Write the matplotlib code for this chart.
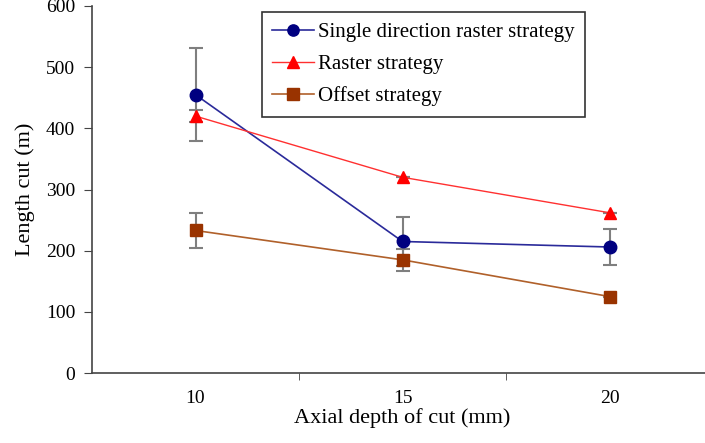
import matplotlib
matplotlib.use("Agg")
import matplotlib.pyplot as plt
import numpy as np

categories = ["10", "15", "20"]
single_vals = [455, 215, 206]
single_err = [76, 40, 30]
raster_vals = [420, 320, 262]
raster_err = [10, 0, 0]
offset_vals = [233, 185, 125]
offset_err = [29, 18, 0]

plt.rcParams['font.family'] = ['Liberation Serif', 'DejaVu Serif']

fig = plt.figure(figsize=(7.05, 4.43), dpi=100)
ax = fig.add_axes([92/705, 70/443, 621/705, 367/443])

x = np.arange(len(categories))

err_kw = dict(ecolor='#7f7f7f', elinewidth=1.5, capsize=5, capthick=1.5)

ax.errorbar(x, single_vals, yerr=single_err, fmt='none', zorder=2, **err_kw)
ax.errorbar(x, raster_vals, yerr=raster_err, fmt='none', zorder=2, **err_kw)
ax.errorbar(x, offset_vals, yerr=offset_err, fmt='none', zorder=2, **err_kw)

ax.plot(x, single_vals, color='#2a2a9a', lw=1.2, marker='o', ms=9,
        mfc='#000080', mec='#000080', label='Single direction raster strategy', zorder=3)
ax.plot(x, raster_vals, color='#ff3030', lw=1.0, marker='^', ms=9,
        mfc='#ff0000', mec='#ff0000', label='Raster strategy', zorder=3)
ax.plot(x, offset_vals, color='#b0602a', lw=1.2, marker='s', ms=9,
        mfc='#993300', mec='#993300', label='Offset strategy', zorder=3)

ax.set_xlim(-0.5, 2.5)
ax.set_ylim(0, 600)
ax.set_yticks(range(0, 601, 100))
ax.set_xticks(x)
ax.set_xticklabels(categories)
ax.set_xticks([0.5, 1.5], minor=True)
ax.tick_params(axis='x', which='major', length=0, pad=12, labelsize=14)
ax.tick_params(axis='x', which='minor', length=5, direction='out', color='#444444')
ax.tick_params(axis='y', length=6, direction='out', labelsize=14, color='#444444', pad=6)

for s in ['top', 'right']:
    ax.spines[s].set_visible(False)
for s in ['left', 'bottom']:
    ax.spines[s].set_color('#444444')
    ax.spines[s].set_linewidth(1.2)

ax.set_xlabel('Axial depth of cut (mm)', fontsize=16, labelpad=1)
ax.set_ylabel('Length cut (m)', fontsize=16, labelpad=8)

leg = ax.legend(loc='upper left', bbox_to_anchor=((262 - 92)/621, 1 - (12 - 6)/367),
                bbox_transform=ax.transAxes,
                fontsize=15, frameon=True, fancybox=False, borderpad=0.5,
                handlelength=2.0, handletextpad=0.2, labelspacing=0.6, markerscale=0.9,
                borderaxespad=0)
leg.get_frame().set_edgecolor('black')
leg.get_frame().set_linewidth(1.2)

fig.savefig('out.png', dpi=100)
